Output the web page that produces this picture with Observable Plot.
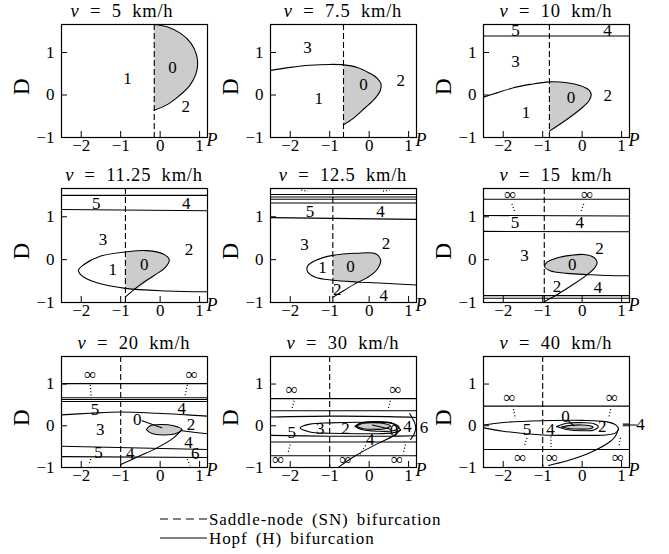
<!DOCTYPE html>
<html><head><meta charset="utf-8">
<script src="https://cdn.jsdelivr.net/npm/d3@7"></script>
<script src="https://cdn.jsdelivr.net/npm/@observablehq/plot@0.6"></script>
<style>
body{margin:0;background:#fff;}
#wrap{position:relative;width:669px;height:554px;font-family:"Liberation Serif",serif;color:#000;background:#fff;overflow:hidden;}
.panel{position:absolute;}
.title{position:absolute;width:220px;text-align:center;font-size:18.5px;line-height:20px;white-space:nowrap;letter-spacing:0.8px;word-spacing:5px;}
</style></head><body><div id="wrap"></div>
<script>
const FONT = '"Liberation Serif",serif';
const speeds = ["5", "7.5", "10", "11.25", "12.5", "15", "20", "30", "40"];
const snP = [-0.15, -0.65, -0.83, -0.88, -0.92, -0.96, -1.0, -1.0, -1.0];
const xTicks = [-2, -1, 0, 1];
const yTicks = [-1, 0, 1];

// v = 5
const hopf1 = [[-0.15,1.66],[0.19,1.6],[0.52,1.45],[0.78,1.22],[0.92,0.95],[0.95,0.71],[0.9,0.48],[0.74,0.21],[0.48,-0.02],[0.19,-0.22],[-0.15,-0.36]];
const labels1 = [{t:"1",x:-0.83,y:0.39},{t:"0",x:0.31,y:0.64},{t:"2",x:0.65,y:-0.26}];

// v = 7.5
const hopf2 = [[-2.5,0.58],[-2.0,0.65],[-1.5,0.7],[-1.0,0.72],[-0.65,0.71],[-0.3,0.65],[0.0,0.52],[0.2,0.4],[0.3,0.26],[0.28,0.1],[0.15,-0.08],[-0.1,-0.3],[-0.4,-0.55],[-0.65,-0.7]];
const labels2 = [{t:"3",x:-1.56,y:1.12},{t:"1",x:-1.28,y:-0.08},{t:"0",x:-0.14,y:0.25},{t:"2",x:0.8,y:0.33}];

// v = 10
const hopf3 = [[-2.5,-0.05],[-2.16,0.05],[-1.74,0.17],[-1.31,0.25],[-0.83,0.31],[-0.38,0.29],[-0.04,0.22],[0.17,0.12],[0.23,0.01],[0.17,-0.14],[-0.04,-0.33],[-0.38,-0.57],[-0.83,-0.85]];
const rules3 = [1.39];
const labels3 = [{t:"5",x:-1.69,y:1.52},{t:"4",x:0.64,y:1.52},{t:"3",x:-1.69,y:0.79},{t:"1",x:-1.42,y:-0.41},{t:"0",x:-0.28,y:-0.07},{t:"2",x:0.65,y:-0.02}];

// v = 11.25
const hopf4 = [[1.2,-0.75],[0.17,-0.73],[-0.88,-0.67],[-1.6,-0.54],[-1.98,-0.38],[-2.07,-0.25],[-1.94,-0.12],[-1.52,0.08],[-0.88,0.18],[-0.34,0.21],[0.08,0.13],[0.23,0.0],[0.13,-0.18],[-0.17,-0.38],[-0.51,-0.59],[-0.88,-0.87]];
const fill4 = [[-0.88,0.18],[-0.34,0.21],[0.08,0.13],[0.23,0.0],[0.13,-0.18],[-0.17,-0.38],[-0.61,-0.68],[-0.88,-0.67]];
const rules4 = [1.5];
const line4 = [[-2.5,1.17],[1.2,1.14]];
const labels4 = [{t:"5",x:-1.62,y:1.32},{t:"4",x:0.66,y:1.31},{t:"3",x:-1.45,y:0.46},{t:"2",x:0.73,y:0.23},{t:"1",x:-1.2,y:-0.23},{t:"0",x:-0.4,y:-0.12}];

// v = 12.5
const hopf5 = [[1.2,-0.59],[0.37,-0.55],[-0.31,-0.52],[-0.92,-0.48],[-1.36,-0.41],[-1.56,-0.28],[-1.56,-0.15],[-1.36,-0.02],[-0.92,0.1],[-0.31,0.15],[0.16,0.14],[0.29,0.0],[0.2,-0.23],[-0.05,-0.42],[-0.35,-0.56],[-0.64,-0.72],[-0.92,-0.88]];
const fill5 = [[-0.92,0.1],[-0.31,0.15],[0.16,0.14],[0.29,0.0],[0.2,-0.23],[-0.05,-0.42],[-0.28,-0.52],[-0.92,-0.48]];
const rules5 = [1.52, 1.46, 1.41, 1.32];
const line5 = [[-2.5,0.98],[1.2,0.94]];
const dots5 = [[-1.72,1.62,-1.55,1.6],[0.35,1.6,0.52,1.62]];
const labels5 = [{t:"5",x:-1.5,y:1.12},{t:"4",x:0.29,y:1.12},{t:"3",x:-1.64,y:0.36},{t:"2",x:0.43,y:0.38},{t:"1",x:-1.18,y:-0.18},{t:"0",x:-0.47,y:-0.15},{t:"2",x:-0.81,y:-0.69},{t:"4",x:0.37,y:-0.83}];

// v = 15
const hopf6 = [[1.2,-0.375],[0.64,-0.37],[0.17,-0.35],[-0.38,-0.32],[-0.81,-0.26],[-0.95,-0.16],[-0.89,-0.06],[-0.64,0.04],[-0.3,0.1],[0.04,0.12],[0.3,0.05],[0.38,-0.06],[0.3,-0.21],[0.13,-0.35],[-0.21,-0.57],[-0.64,-0.82],[-0.96,-0.98]];
const fill6 = [[-0.95,-0.16],[-0.89,-0.06],[-0.64,0.04],[-0.3,0.1],[0.04,0.12],[0.3,0.05],[0.38,-0.06],[0.3,-0.21],[0.15,-0.34],[-0.38,-0.32],[-0.81,-0.26]];
const rules6 = [1.41, -0.84, -0.9];
const line6a = [[-2.5,1.03],[1.2,1.02]];
const line6b = [[-2.5,0.66],[1.2,0.65]];
const inf6 = [{x:-1.82,y:1.53},{x:0.13,y:1.53}];
const dots6 = [[-1.78,1.3,-1.7,1.1],[0.04,1.3,-0.04,1.1]];
const labels6 = [{t:"5",x:-1.7,y:0.86},{t:"4",x:-0.06,y:0.86},{t:"3",x:-1.46,y:0.1},{t:"2",x:0.44,y:0.25},{t:"0",x:-0.25,y:-0.12},{t:"2",x:-0.64,y:-0.63},{t:"4",x:0.4,y:-0.64}];

// v = 20
const rules7 = [1.01, 0.67, 0.63, 0.58];
const line7a = [[-2.5,0.26],[-1.77,0.3],[-1.01,0.33],[-0.08,0.3],[0.68,0.26],[1.2,0.23]];
const line7b = [[-2.5,-0.49],[1.2,-0.57]];
const line7c = [[-2.5,-0.74],[1.2,-0.76]];
const stub7 = [[0.55,-0.12],[0.9,-0.16],[1.2,-0.19]];
const ell7 = [[-0.35,-0.09],[-0.25,0.0],[0,0.03],[0.34,0.0],[0.55,-0.09],[0.42,-0.18],[0.08,-0.22],[-0.22,-0.18],[-0.35,-0.09]];
const desc7 = [[0.55,-0.09],[0.34,-0.29],[-0.08,-0.53],[-0.51,-0.72],[-1.0,-0.93]];
const lead7 = [[-0.46,0.12],[0.04,-0.05]];
const inf7 = [{x:-1.77,y:1.22},{x:0.8,y:1.22}];
const dots7 = [[-1.77,0.98,-1.75,0.71],[0.69,0.98,0.63,0.71],[-1.76,-0.8,-1.81,-0.95],[0.69,-0.8,0.76,-0.95]];
const labels7 = [{t:"5",x:-1.65,y:0.4},{t:"4",x:0.55,y:0.42},{t:"3",x:-1.52,y:-0.1},{t:"0",x:-0.58,y:0.155},{t:"2",x:0.78,y:0.03},{t:"4",x:0.72,y:-0.41},{t:"5",x:-1.56,y:-0.64},{t:"4",x:-0.76,y:-0.67},{t:"6",x:0.89,y:-0.67}];

// v = 30
const rules8 = [0.65, 0.36, -0.39, -0.72];
const line8a = [[-2.5,0.21],[-1,0.23],[0.5,0.22],[1.2,0.2]];
const line8b = [[-2.5,-0.23],[-1,-0.25],[0.5,-0.25],[1.2,-0.24]];
const arc8 = [[1.03,0.29],[1.15,0.08],[1.18,-0.05],[1.14,-0.2],[1.05,-0.33]];
const loop8 = [[0.8,-0.1],[0.6,0.05],[0,0.08],[-1,0.07],[-1.5,0.04],[-1.75,-0.05],[-1.5,-0.15],[-1,-0.18],[0,-0.19],[0.6,-0.17],[0.8,-0.1]];
const desc8 = [[0.8,-0.1],[0.6,-0.25],[0.25,-0.41],[-0.35,-0.72],[-0.77,-0.99]];
const ring8 = [[-0.36,-0.01],[-0.2,0.07],[0.2,0.1],[0.6,0.06],[0.76,-0.04],[0.6,-0.12],[0.2,-0.13],[-0.2,-0.09],[-0.36,-0.01]];
const ell8 = [[-0.33,-0.01],[-0.15,0.06],[0.1,0.075],[0.4,0.05],[0.54,0.0],[0.4,-0.07],[0.1,-0.085],[-0.15,-0.07],[-0.33,-0.01]];
const lead8 = [[0.08,0.02],[0.54,-0.085]];
const inf8 = [{x:-1.96,y:0.88},{x:0.67,y:0.88},{x:-2.3,y:-0.82},{x:-0.6,y:-0.82},{x:0.71,y:-0.82}];
const dots8 = [[-1.9,0.6,-1.96,0.4],[0.54,0.6,0.48,0.4],[-2.0,-0.45,-2.06,-0.67],[-0.09,-0.47,-0.26,-0.72],[0.92,-0.45,0.86,-0.68]];
const labels8 = [{t:"5",x:-1.96,y:-0.155},{t:"3",x:-1.24,y:-0.06},{t:"2",x:-0.6,y:-0.06},{t:"0",x:0.63,y:-0.12},{t:"4",x:0.97,y:-0.01},{t:"6",x:1.39,y:-0.05},{t:"4",x:0.03,y:-0.33}];

// v = 40
const rules9 = [0.47, -0.57];
const loop9 = [[-2.5,0.02],[-2.0,0.08],[-1.0,0.12],[0,0.13],[0.6,0.1],[0.85,0.02],[0.92,-0.08],[0.85,-0.17],[0.6,-0.22],[0,-0.23],[-1.0,-0.22],[-2.0,-0.13],[-2.5,-0.05]];
const desc9 = [[0.92,-0.08],[0.84,-0.25],[0.72,-0.37],[0.21,-0.64],[-0.38,-0.84],[-0.85,-0.95]];
const ring9 = [[-0.65,-0.02],[-0.4,0.06],[0,0.075],[0.3,0.05],[0.41,-0.02],[0.3,-0.1],[0,-0.12],[-0.4,-0.09],[-0.65,-0.02]];
const ell9 = [[-0.53,-0.03],[-0.3,0.01],[0,0.02],[0.2,0.0],[0.28,-0.03],[0.2,-0.07],[0,-0.08],[-0.3,-0.07],[-0.53,-0.03]];
const stub9a = [[1.04,0.04],[1.2,0.04]];
const stub9b = [[1.04,0.0],[1.2,0.0]];
const lead9 = [[-0.36,0.13],[-0.21,0.0]];
const lead9b = [[1.2,0.02],[1.38,0.02]];
const inf9 = [{x:-1.84,y:0.67},{x:0.76,y:0.67},{x:-1.57,y:-0.76},{x:-0.76,y:-0.76},{x:0.91,y:-0.76}];
const dots9 = [[-1.74,0.4,-1.69,0.17],[0.72,0.4,0.68,0.21],[-1.4,-0.29,-1.47,-0.51],[-0.79,-0.26,-0.79,-0.51],[0.97,-0.29,0.93,-0.51]];
const labels9 = [{t:"0",x:-0.42,y:0.23},{t:"5",x:-1.4,y:-0.08},{t:"4",x:-0.8,y:-0.08},{t:"2",x:0.51,y:-0.02},{t:"4",x:1.48,y:0.02}];

const panels = [
  {curves:[hopf1], fills:[hopf1], rules:[], labels:labels1, inf:[], dots:[]},
  {curves:[hopf2], fills:[hopf2.slice(4)], rules:[], labels:labels2, inf:[], dots:[]},
  {curves:[hopf3], fills:[hopf3.slice(4)], rules:rules3, labels:labels3, inf:[], dots:[]},
  {curves:[hopf4, line4], fills:[fill4], rules:rules4, labels:labels4, inf:[], dots:[]},
  {curves:[hopf5, line5], fills:[fill5], rules:rules5, labels:labels5, inf:[], dots:dots5},
  {curves:[hopf6, line6a, line6b], fills:[fill6], rules:rules6, labels:labels6, inf:inf6, dots:dots6},
  {curves:[line7a, line7b, line7c, stub7, ell7, desc7, lead7], fills:[ell7], rules:rules7, labels:labels7, inf:inf7, dots:dots7},
  {curves:[line8a, line8b, arc8, loop8, desc8, ring8, ell8, lead8], fills:[ell8], rules:rules8, labels:labels8, inf:inf8, dots:dots8},
  {curves:[loop9, desc9, ring9, ell9, stub9a, stub9b, lead9, lead9b], fills:[ell9], rules:rules9, labels:labels9, inf:inf9, dots:dots9}
];

const colLeft = [61, 270, 483];
const rowTop = [24, 188, 356];
const rowH = [113, 114, 111];
const titleShift = [-12, 0, 0, 0, 0, 0, 0, 0, 0];
const W = 146, ml = 45, mr = 30, mt = 6, mb = 26;
const fmt = d => d < 0 ? "\u2212" + (-d) : String(d);
const wrap = document.getElementById("wrap");

panels.forEach((p, i) => {
  const r = Math.floor(i / 3), c = i % 3;
  const H = rowH[r];
  const curve = "catmull-rom";
  const svg = Plot.plot({
    width: W + ml + mr, height: H + mt + mb,
    marginLeft: ml, marginRight: mr, marginTop: mt, marginBottom: mb,
    style: {fontFamily: FONT, fontSize: "17px", background: "transparent", color: "black", overflow: "visible"},
    x: {domain: [-2.5, 1.2], ticks: xTicks, tickFormat: fmt, tickSize: 0, tickPadding: 1, label: null},
    y: {domain: [-1, 1.66], ticks: yTicks, tickFormat: fmt, tickSize: 0, tickPadding: 7, label: null},
    marks: [
      ...p.fills.map(f => Plot.line(f, {fill: "#cccccc", stroke: "none", curve})),
      Plot.ruleY(p.rules, {stroke: "black", strokeWidth: 1.1}),
      ...p.curves.map(cv => Plot.line(cv, {stroke: "black", strokeWidth: 1.1, curve})),
      Plot.link(p.dots, {x1: d => d[0], y1: d => d[1], x2: d => d[2], y2: d => d[3], stroke: "black", strokeWidth: 1.3, strokeDasharray: "1,2.2"}),
      Plot.ruleX([snP[i]], {stroke: "black", strokeWidth: 1.1, strokeDasharray: "6,3"}),
      Plot.tickX(xTicks, {x: d => d, insetTop: H - 6, stroke: "black", strokeWidth: 1}),
      Plot.tickY(yTicks, {y: d => d, insetRight: W - 6, stroke: "black", strokeWidth: 1}),
      Plot.frame({stroke: "black", strokeWidth: 1.2}),
      Plot.text(p.labels, {x: "x", y: "y", text: "t", fontSize: 17}),
      Plot.text(p.inf, {x: "x", y: "y", text: () => "\u221E", fontSize: 17}),
      Plot.text(["D"], {frameAnchor: "left", dx: -40, dy: 14, rotate: -90, fontSize: 23}),
      Plot.text(["P"], {frameAnchor: "bottom-right", dx: 10, dy: 8, fontStyle: "italic", fontSize: 18})
    ]
  });
  svg.classList.add("panel");
  svg.style.left = (colLeft[c] - ml) + "px";
  svg.style.top = (rowTop[r] - mt) + "px";
  wrap.appendChild(svg);
  const t = document.createElement("div");
  t.className = "title";
  t.innerHTML = `<i>v</i> = ${speeds[i]} km/h`;
  t.style.left = (colLeft[c] + W / 2 - 110 + titleShift[i]) + "px";
  t.style.top = (rowTop[r] - 23) + "px";
  wrap.appendChild(t);
});

// legend
const legendItems = ["Saddle-node (SN) bifurcation", "Hopf (H) bifurcation"];
const legendDash = ["8,5", null];
const leg = d3.select(wrap).append("svg")
  .attr("width", 320).attr("height", 50)
  .style("position", "absolute").style("left", "150px").style("top", "503px")
  .style("font-family", FONT).style("font-size", "17px");
legendItems.forEach((txt, k) => {
  const yb = 21.5 + k * 19;
  leg.append("line").attr("x1", 10).attr("x2", 57).attr("y1", yb - 5.5).attr("y2", yb - 5.5)
    .attr("stroke", "black").attr("stroke-width", 1.1).attr("stroke-dasharray", legendDash[k]);
  leg.append("text").attr("x", 59).attr("y", yb)
    .attr("letter-spacing", "0.9px").attr("word-spacing", "3px").text(txt);
});
</script></body></html>
